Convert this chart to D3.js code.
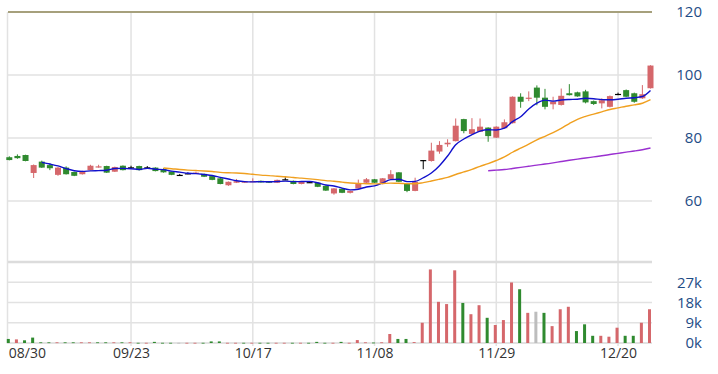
<!DOCTYPE html>
<html>
<head>
<meta charset="utf-8">
<script src="https://cdn.jsdelivr.net/npm/d3@7/dist/d3.min.js"></script>
<style>
  body { margin: 0; background: #fff; }
  svg { display: block; font-family: "Open Sans", sans-serif; }
</style>
</head>
<body>
<svg id="chart" width="718" height="374"></svg>
<script>
// daily candles (80 bars)
const openP = [73.9,74.3,74.6,68.9,72.5,71.4,68.3,70.6,69.2,68.5,
  69.8,70.7,71.1,69.3,71.2,70.7,71.1,70.7,70.6,70.1,
  69.3,68.3,68.8,68.8,68.6,67.9,67.2,65.0,65.8,65.8,
  66.1,66.4,66.2,65.8,66.9,66.4,65.4,66.0,65.8,64.8,
  62.4,63.9,62.6,64.0,65.8,66.9,65.4,67.0,69.1,65.6,
  63.2,73.0,72.7,75.7,78.0,79.0,86.0,81.3,82.0,83.3,
  80.1,83.1,84.7,93.1,92.5,96.0,92.8,90.7,90.5,94.2,
  94.5,94.8,91.7,91.0,89.9,94.0,95.2,94.2,92.6,95.8];
const highP = [74.2,74.8,74.7,71.6,72.8,71.9,70.8,71.0,69.3,69.6,
  71.5,71.5,71.2,70.9,71.3,71.2,71.2,71.1,70.7,70.4,
  69.4,68.6,69.1,69.3,68.7,68.0,67.3,66.2,67.0,66.3,
  67.2,66.5,66.3,66.8,67.5,66.5,66.2,66.3,65.9,64.9,
  64.1,64.0,63.3,66.8,67.3,67.0,67.3,69.8,69.2,65.7,
  67.4,73.0,78.5,79.0,79.6,86.2,86.1,86.3,86.2,83.4,
  83.7,85.9,93.2,94.2,94.8,96.7,95.6,93.1,95.7,97.1,
  94.7,95.3,91.9,92.6,93.5,94.4,95.4,94.4,96.8,103.1];
const lowP = [72.9,73.4,72.6,67.3,70.5,69.8,68.0,68.4,67.9,68.4,
  69.7,70.6,68.9,69.2,69.7,70.4,69.7,70.3,69.4,69.0,
  68.2,68.0,68.5,68.7,67.6,66.6,65.3,64.8,65.7,65.7,
  66.0,65.8,65.7,65.7,66.6,65.3,65.3,65.8,64.4,63.2,
  62.0,62.5,62.4,63.9,65.7,65.7,65.3,66.9,66.0,62.8,
  63.1,70.1,72.5,75.0,77.2,78.9,81.5,81.2,81.9,78.8,
  80.0,83.0,84.6,89.6,91.7,90.4,89.1,89.1,90.3,93.5,
  93.1,91.0,90.5,89.4,89.7,93.6,93.0,91.2,92.4,95.7];
const closeP = [73.0,73.6,72.7,71.4,70.6,70.4,70.6,68.5,68.0,69.5,
  71.2,71.0,69.0,70.8,69.8,70.7,69.8,70.7,69.5,69.1,
  68.3,68.3,68.8,69.0,67.7,66.7,65.4,66.1,66.3,66.2,
  66.3,65.9,65.8,66.7,66.9,65.4,66.1,66.0,64.5,63.3,
  64.0,62.6,63.2,65.6,66.9,65.8,67.2,68.5,66.1,63.2,
  66.1,73.0,76.0,77.8,78.5,83.9,82.2,82.8,83.6,80.6,
  83.6,85.0,93.1,91.5,92.8,92.8,89.9,91.5,93.4,93.6,
  93.2,91.3,90.8,92.0,93.3,94.0,93.1,91.5,93.9,103.0];
// volume in thousands
const volumeK = [1.8,1.6,1.2,2.4,0.3,0.3,0.3,0.3,0.3,0.3,
  0.3,0.3,0.3,0.3,0.3,0.3,0.1,0.1,0.5,0.1,
  0.1,0.1,0.1,0.1,0.1,0.7,0.7,0.1,0.1,0.1,
  0.1,0.1,0.1,0.1,0.1,0.1,0.1,0.1,0.5,0.1,
  0.1,0.5,0.1,1.3,0.3,0.2,0.3,4.0,1.8,1.8,
  0.4,9.0,32.7,18.3,17.3,32.3,17.8,12.8,16.8,11.2,
  8.0,10.2,26.9,23.9,13.4,13.9,13.4,7.5,15.0,16.1,
  5.3,8.3,3.2,3.2,2.8,6.8,3.2,3.2,9.0,15.0];

const dateTicks = [0, 15, 30, 45, 60, 75];
const dateLabels = ["08/30", "09/23", "10/17", "11/08", "11/29", "12/20"];
const priceTicks = [60, 80, 100, 120];
const volumeTicks = [0, 9, 18, 27];
const maPeriods = [5, 20, 60];
const maColors = ["#1010cc", "#f0a020", "#9a30d0"];

const svg = d3.select("#chart");
const left = 8, right = 652;
const red = "#d5676b", green = "#2f8a2f";

const x = d3.scaleLinear().domain([0, closeP.length - 1]).range([9.3, 650.5]);
const y = d3.scaleLinear().domain([40, 120]).range([264, 12]);
const yv = d3.scaleLinear().domain([0, 36]).range([343, 262]);

// grid
const grid = svg.append("g").attr("stroke", "#e2e2e2").attr("stroke-width", 1.5);
grid.selectAll(".hp").data(priceTicks.slice(0, 3)).join("line")
  .attr("x1", left).attr("x2", right)
  .attr("y1", d => y(d)).attr("y2", d => y(d));
grid.selectAll(".hv").data(volumeTicks.slice(1)).join("line")
  .attr("x1", left).attr("x2", right)
  .attr("y1", d => yv(d)).attr("y2", d => yv(d));
grid.selectAll(".vx").data(dateTicks.slice(1)).join("line")
  .attr("x1", d => x(d)).attr("x2", d => x(d))
  .attr("y1", 12).attr("y2", 346);
grid.append("line").attr("x1", left - 0.5).attr("x2", left - 0.5).attr("y1", 12).attr("y2", 344);
grid.append("line").attr("x1", left).attr("x2", right).attr("y1", 262).attr("y2", 262)
  .attr("stroke-width", 2.5).attr("stroke", "#dcdcdc");
grid.append("line").attr("x1", left).attr("x2", right).attr("y1", 343).attr("y2", 343)
  .attr("stroke", "#d8d8d8");
svg.append("line").attr("x1", left).attr("x2", right).attr("y1", 12).attr("y2", 12)
  .attr("stroke", "#a6a07c").attr("stroke-width", 2);

// candles
const idx = d3.range(closeP.length);
const candleColor = i => closeP[i] > openP[i] ? red : closeP[i] < openP[i] ? green : "#000";
const candles = svg.append("g");
candles.selectAll("line").data(idx).join("line")
  .attr("x1", i => x(i)).attr("x2", i => x(i))
  .attr("y1", i => y(highP[i])).attr("y2", i => y(lowP[i]))
  .attr("stroke", candleColor).attr("stroke-width", 1);
candles.selectAll("rect").data(idx).join("rect")
  .attr("x", i => x(i) - 3).attr("width", 6)
  .attr("y", i => y(Math.max(openP[i], closeP[i])))
  .attr("height", i => Math.max(1.2, Math.abs(y(openP[i]) - y(closeP[i]))))
  .attr("fill", candleColor);

// moving averages
maPeriods.forEach((p, k) => {
  const pts = idx.filter(i => i >= p - 1)
    .map(i => [i, d3.mean(closeP.slice(i - p + 1, i + 1))]);
  svg.append("path").datum(pts)
    .attr("fill", "none").attr("stroke", maColors[k]).attr("stroke-width", 1.4)
    .attr("d", d3.line().x(d => x(d[0])).y(d => y(d[1])).curve(d3.curveMonotoneX));
});

// volume
const volColor = i => {
  const prev = i > 0 ? closeP[i - 1] : openP[i];
  return closeP[i] > prev ? red : closeP[i] < prev ? green : "#bdbdbd";
};
svg.append("g").selectAll("rect").data(idx).join("rect")
  .attr("x", i => x(i) - 2.5).attr("width", 3)
  .attr("y", i => yv(volumeK[i]))
  .attr("height", i => Math.max(0.8, yv(0) - yv(volumeK[i])))
  .attr("fill", volColor);

// right axes
const axisBlue = "#1e4d86";
const pAxis = svg.append("g").attr("transform", "translate(702,0)")
  .call(d3.axisRight(y).tickValues(priceTicks).tickSize(0).tickPadding(0));
const vAxis = svg.append("g").attr("transform", "translate(702,0)")
  .call(d3.axisRight(yv).tickValues(volumeTicks).tickSize(0).tickPadding(0)
    .tickFormat(d => d + "k"));
[pAxis, vAxis].forEach(g => {
  g.select(".domain").remove();
  g.selectAll("text").attr("text-anchor", "end").attr("fill", axisBlue)
    .attr("font-size", 15).attr("font-family", "Open Sans, sans-serif");
});

// date axis
const xAxis = svg.append("g").attr("transform", "translate(0,346)")
  .call(d3.axisBottom(x).tickValues(dateTicks).tickSize(0).tickPadding(2)
    .tickFormat((d, i) => dateLabels[i]));
xAxis.select(".domain").remove();
xAxis.selectAll("text").attr("fill", "#333").attr("font-size", 14)
  .attr("font-family", "Open Sans, sans-serif");
xAxis.selectAll("text").filter((d, i) => i === 0).attr("text-anchor", "start").attr("x", -1);
</script>
</body>
</html>
